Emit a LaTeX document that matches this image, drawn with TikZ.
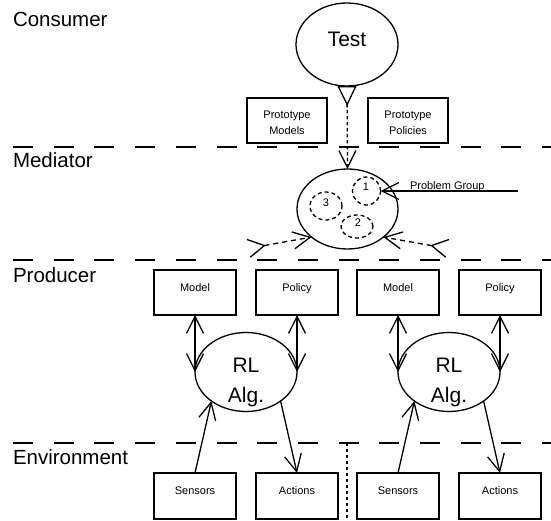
\documentclass[tikz,border=0pt]{standalone}
\usepackage{fontspec}
\setmainfont{Liberation Sans}
\usetikzlibrary{shapes.geometric,arrows.meta}
\tikzset{
  myv/.tip={Straight Barb[length=17pt,width=17pt]},
  myvr/.tip={Straight Barb[reversed,length=16pt,width=18pt]},
  tri/.tip={Triangle[open,reversed,length=20pt,width=19pt]},
}
\begin{document}
\begin{tikzpicture}[x=1pt,y=-1pt,
  every node/.style={inner sep=0pt, outer sep=0pt},
  lw/.style={line width=1.3pt},
  sep/.style={line width=1.3pt, dash pattern=on 20pt off 20.7pt},
  dots/.style={line width=1.3pt, dash pattern=on 3.3pt off 2.7pt},
  dsh/.style={line width=1.3pt, dash pattern=on 5pt off 4pt},
  box/.style={draw, line width=1.3pt, minimum width=82pt, minimum height=45pt},
  ell/.style={draw, ellipse, line width=1.3pt},
  grp/.style={draw, ellipse, line width=1.3pt, dash pattern=on 4pt off 3pt},
  big/.style={font=\fontsize{21}{30}\selectfont, anchor=base},
  small/.style={font=\fontsize{11}{16}\selectfont},
  layer/.style={font=\fontsize{20.5}{24}\selectfont, anchor=base west},
]
\fill[white] (0,0) rectangle (551,521);
\useasboundingbox (0,0) rectangle (551,521);

% layer separators
\draw[sep] (13,147) -- (551,147);
\draw[sep] (13,260) -- (551,260);
\draw[sep] (13,443) -- (551,443);

% layer labels
\node[layer] (lcons) at (13,27) {Consumer};
\node[layer] (lmed) at (13,168) {Mediator};
\node[layer] (lprod) at (13,282) {Producer};
\node[layer] (lenv) at (13,464) {Environment};

% consumer
\node[ell, minimum width=102pt, minimum height=83pt] (test) at (347,44.5) {};
\node[big] (testtxt) at (347,47) {Test};
\node[box, minimum width=80pt] (pm) at (287,120.5) {};
\node[small, align=center] (pmt) at (287,123) {Prototype\\Models};
\node[box, minimum width=80pt] (pp) at (408,120.5) {};
\node[small, align=center] (ppt) at (408,123) {Prototype\\Policies};

% mediator
\node[ell, minimum width=101pt, minimum height=80pt] (med) at (347.5,209) {};
\node[grp, minimum width=28pt, minimum height=28pt] (c1) at (366.5,191) {};
\node[small] (c1t) at (366,187) {1};
\node[grp, minimum width=32pt, minimum height=28pt] (c3) at (326,206) {};
\node[small] (c3t) at (326,203) {3};
\node[grp, minimum width=32pt, minimum height=23pt] (c2) at (357,226.5) {};
\node[small] (c2t) at (358,223) {2};
\node[small, anchor=base west] (pg) at (410,190) {Problem Group};
\coordinate (pgs) at (518,191);
\draw[lw, -{myv}] (pgs) -- (c1.east);

\draw[dots, {tri}-{myv}] (test.south) -- (med.north);

\coordinate (la) at (248,248.5);
\coordinate (ra) at (448,248.5);
\draw[dsh, {myvr}-{myv}] (la) -- (med.218);
\draw[dsh, {myvr}-{myv}] (ra) -- (med.322);

% producer
\foreach \n/\x/\t in {m1/195/Model, p1/297/Policy, m2/398/Model, p2/500/Policy}{
  \node[box] (\n) at (\x,292.5) {};
  \node[small, anchor=base] (\n t) at (\x,291) {\t};
}
\foreach \n/\x in {rl1/246, rl2/449}{
  \node[ell, minimum width=102pt, minimum height=79pt] (\n) at (\x,372) {};
  \node[big] (\n a) at (\x,372) {RL};
  \node[big] (\n b) at (\x,402) {Alg.};
}
\draw[lw, {myv}-{myv}] (m1.south) -- (rl1.west);
\draw[lw, {myv}-{myv}] (p1.south) -- (rl1.east);
\draw[lw, {myv}-{myv}] (m2.south) -- (rl2.west);
\draw[lw, {myv}-{myv}] (p2.south) -- (rl2.east);

% environment
\foreach \n/\x/\t in {s1/195/Sensors, a1/297/Actions, s2/398/Sensors, a2/500/Actions}{
  \node[box, minimum height=46pt] (\n) at (\x,496) {};
  \node[small, anchor=base] (\n t) at (\x,494) {\t};
}
\draw[lw, -{myv}] (s1.north) -- (rl1.220);
\draw[lw, -{myv}] (rl1.320) -- (a1.north);
\draw[lw, -{myv}] (s2.north) -- (rl2.220);
\draw[lw, -{myv}] (rl2.320) -- (a2.north);

\coordinate (dt) at (347,443);
\coordinate (db) at (347,521);
\draw[dots] (dt) -- (db);
\end{tikzpicture}
\end{document}
